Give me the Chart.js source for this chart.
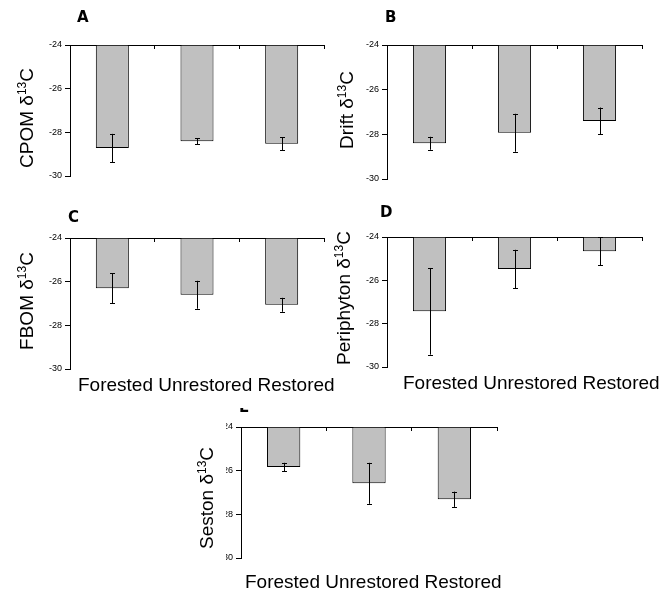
<!DOCTYPE html>
<html>
<head>
<meta charset="utf-8">
<script src="https://cdn.jsdelivr.net/npm/chart.js@4.4.0/dist/chart.umd.min.js"></script>
<style>
  body { margin: 0; background: #fff; }
  #wrap { position: relative; width: 661px; height: 599px; }
  #wrap canvas { position: absolute; left: 0; top: 0; }
</style>
</head>
<body>
<div id="wrap">
  <canvas id="cA" width="661" height="599"></canvas>
  <canvas id="cB" width="661" height="599"></canvas>
  <canvas id="cC" width="661" height="599"></canvas>
  <canvas id="cD" width="661" height="599"></canvas>
  <canvas id="cE" width="661" height="599"></canvas>
</div>
<script>
// sites and the shared axis
const categories = ['Forested', 'Unrestored', 'Restored'];
const xTitle = 'Forested Unrestored Restored';
const yMin = -30;
const yMax = -24;
const yStep = 2;

// mean d13C and error per site
const cpomMean = [-28.72, -28.41, -28.52];
const cpomErr = [0.65, 0.14, 0.29];
const driftMean = [-28.40, -27.93, -27.40];
const driftErr = [0.29, 0.85, 0.60];
const fbomMean = [-26.30, -26.60, -27.06];
const fbomErr = [0.69, 0.64, 0.32];
const periMean = [-27.43, -25.48, -24.66];
const periErr = [2.00, 0.89, 0.64];
const sestonMean = [-25.83, -26.58, -27.31];
const sestonErr = [0.19, 0.94, 0.35];

const W = 661, H = 599;
const Y_AXIS_W = 30;
const FONT = "'Liberation Sans', Arial, sans-serif";
Chart.defaults.font.family = FONT;
Chart.defaults.color = '#000';

const panels = [
    { id: 'cA', letter: 'A', name: 'CPOM', mean: cpomMean, err: cpomErr,
      area: { l: 70, t: 45, r: 324, b: 176 }, letterAt: [77, 22], titleAt: [33, 118] },
    { id: 'cB', letter: 'B', name: 'Drift', mean: driftMean, err: driftErr,
      area: { l: 387, t: 45, r: 642, b: 179 }, letterAt: [385, 22], titleAt: [353, 110] },
    { id: 'cC', letter: 'C', name: 'FBOM', mean: fbomMean, err: fbomErr,
      area: { l: 70, t: 238, r: 324, b: 369 }, letterAt: [68, 222], titleAt: [33, 301],
      xTitleAt: [78, 391] },
    { id: 'cD', letter: 'D', name: 'Periphyton', mean: periMean, err: periErr,
      area: { l: 387, t: 237, r: 642, b: 367 }, letterAt: [380, 217], titleAt: [350, 298],
      xTitleAt: [403, 389] },
    { id: 'cE', letter: 'E', name: 'Seston', mean: sestonMean, err: sestonErr,
      area: { l: 241, t: 427, r: 497, b: 558 }, letterAt: [239, 411.5], titleAt: [213, 498],
      xTitleAt: [245, 588], crop: { x: 226, y: 408 } }
];

// vertical error bars with small caps
const errorBars = {
    id: 'errorBars',
    afterDatasetsDraw(chart) {
        const ctx = chart.ctx;
        const ys = chart.scales.y;
        chart.data.datasets.forEach((ds, di) => {
            const meta = chart.getDatasetMeta(di);
            ctx.save();
            ctx.strokeStyle = '#000';
            ctx.lineWidth = 1;
            meta.data.forEach((bar, i) => {
                const v = ds.data[i];
                const e = ds.errors[i];
                const x = Math.round(bar.x) + 0.5;
                const y1 = ys.getPixelForValue(v + e);
                const y2 = ys.getPixelForValue(v - e);
                ctx.beginPath();
                ctx.moveTo(x, y1);
                ctx.lineTo(x, y2);
                ctx.moveTo(x - 2.5, Math.round(y1) + 0.5);
                ctx.lineTo(x + 2.5, Math.round(y1) + 0.5);
                ctx.moveTo(x - 2.5, Math.round(y2) + 0.5);
                ctx.lineTo(x + 2.5, Math.round(y2) + 0.5);
                ctx.stroke();
            });
            ctx.restore();
        });
    }
};

// rotated "<name> δ13C" with a raised 13
function drawYTitle(ctx, name, x, y) {
    const parts = [
        { t: name + ' \u03b4', size: 19, dy: 0 },
        { t: '13', size: 12, dy: -7 },
        { t: 'C', size: 19, dy: 0 }
    ];
    let total = 0;
    parts.forEach(p => {
        ctx.font = p.size + 'px ' + FONT;
        p.w = ctx.measureText(p.t).width;
        total += p.w;
    });
    ctx.save();
    ctx.translate(x, y);
    ctx.rotate(-Math.PI / 2);
    ctx.fillStyle = '#000';
    ctx.textBaseline = 'alphabetic';
    ctx.textAlign = 'left';
    let cx = -total / 2;
    parts.forEach(p => {
        ctx.font = p.size + 'px ' + FONT;
        ctx.fillText(p.t, cx, p.dy);
        cx += p.w;
    });
    ctx.restore();
}

// panel letter, y title and the site line under the plot
const panelText = {
    id: 'panelText',
    beforeDraw(chart, args, opts) {
        if (!opts.crop) return;
        const ctx = chart.ctx;
        ctx.save();
        ctx.beginPath();
        ctx.rect(opts.crop.x, opts.crop.y, W - opts.crop.x, H - opts.crop.y);
        ctx.clip();
    },
    afterDraw(chart, args, opts) {
        const ctx = chart.ctx;
        ctx.save();
        ctx.fillStyle = '#000';
        ctx.font = "bold 15px 'DejaVu Sans', sans-serif";
        ctx.textAlign = 'left';
        ctx.textBaseline = 'alphabetic';
        ctx.fillText(opts.letter, opts.letterAt[0], opts.letterAt[1]);
        ctx.restore();
        if (opts.crop) ctx.restore();

        drawYTitle(ctx, opts.name, opts.titleAt[0], opts.titleAt[1]);

        if (opts.xTitleAt) {
            ctx.save();
            ctx.fillStyle = '#000';
            ctx.font = '19px ' + FONT;
            ctx.textAlign = 'left';
            ctx.textBaseline = 'alphabetic';
            ctx.fillText(xTitle, opts.xTitleAt[0], opts.xTitleAt[1]);
            ctx.restore();
        }
    }
};

panels.forEach(p => {
    const ctx = document.getElementById(p.id).getContext('2d');
    new Chart(ctx, {
        type: 'bar',
        data: {
            labels: categories,
            datasets: [{
                data: p.mean,
                errors: p.err,
                base: yMax,
                backgroundColor: '#c0c0c0',
                borderColor: '#000',
                borderWidth: 1,
                categoryPercentage: 1,
                barPercentage: 0.39
            }]
        },
        options: {
            responsive: false,
            animation: false,
            events: [],
            layout: {
                padding: {
                    left: p.area.l - Y_AXIS_W,
                    top: p.area.t,
                    right: W - p.area.r,
                    bottom: H - p.area.b
                }
            },
            scales: {
                x: {
                    position: 'top',
                    border: { color: '#000', width: 1 },
                    grid: { offset: true, drawOnChartArea: false, tickLength: -4, color: '#000' },
                    ticks: { display: false },
                    afterFit: s => { s.height = 0; }
                },
                y: {
                    min: yMin,
                    max: yMax,
                    border: { color: '#000', width: 1 },
                    grid: { drawOnChartArea: false, tickLength: 5, color: '#000' },
                    ticks: { stepSize: yStep, color: '#000', font: { size: 9 }, padding: 3 },
                    afterFit: s => { s.width = Y_AXIS_W; }
                }
            },
            plugins: {
                legend: { display: false },
                tooltip: { enabled: false },
                panelText: {
                    letter: p.letter,
                    letterAt: p.letterAt,
                    name: p.name,
                    titleAt: p.titleAt,
                    xTitleAt: p.xTitleAt || null,
                    crop: p.crop || null
                }
            }
        },
        plugins: [errorBars, panelText]
    });
});
</script>
</body>
</html>
